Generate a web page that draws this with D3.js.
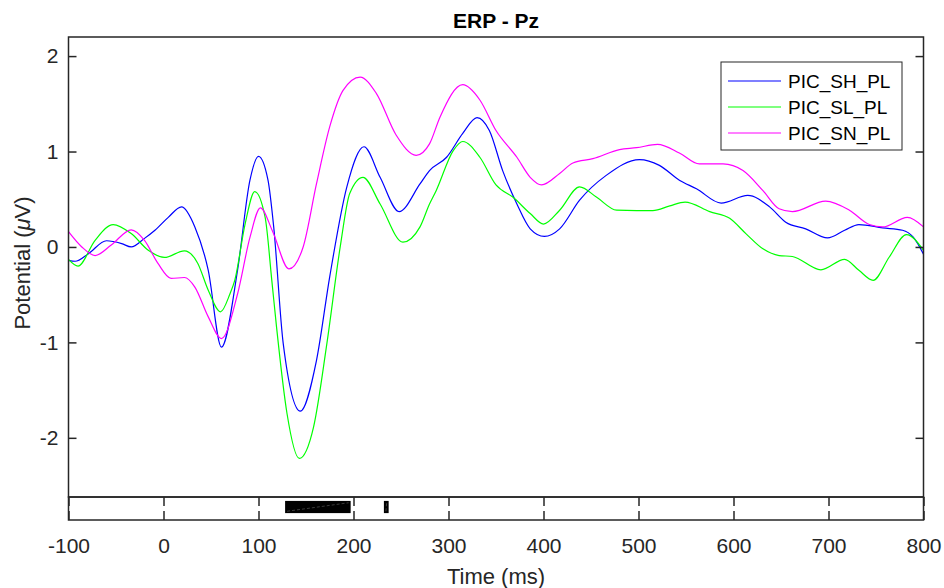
<!DOCTYPE html>
<html>
<head>
<meta charset="utf-8">
<script src="https://cdn.jsdelivr.net/npm/d3@7"></script>
<style>
  body { margin: 0; background: #fff; }
  text { font-family: "Liberation Sans", Arial, sans-serif; fill: #262626; }
</style>
</head>
<body>
<script>
// series (time in ms, potential in uV)
var shTime = [-100, -93, -79, -60, -44, -34, -20, -9, 5, 19, 33, 47, 61, 78, 91, 100, 110, 116, 126, 144, 161, 175, 193, 211, 228, 248, 270, 280, 298, 315, 330, 343, 357, 372, 386, 401, 417, 438, 466, 501, 522, 543, 561, 587, 615, 638, 655, 676, 699, 717, 732, 757, 778, 789, 800];
var shVal  = [-0.14, -0.15, -0.07, 0.065, 0.035, 0.0, 0.09, 0.175, 0.31, 0.42, 0.21, -0.24, -1.05, -0.24, 0.70, 0.95, 0.70, 0.21, -1.01, -1.72, -1.19, -0.31, 0.63, 1.05, 0.73, 0.37, 0.66, 0.80, 0.94, 1.19, 1.355, 1.22, 0.80, 0.45, 0.19, 0.11, 0.19, 0.49, 0.75, 0.915, 0.855, 0.70, 0.61, 0.46, 0.54, 0.42, 0.26, 0.19, 0.095, 0.175, 0.235, 0.20, 0.175, 0.105, -0.076];

var slTime = [-100, -90, -72, -53, -34, -16, 1, 22, 36, 47, 60, 70, 75, 86, 96, 107, 114, 119, 130, 143, 158, 172, 186, 196, 210, 228, 252, 270, 280, 287, 305, 315, 333, 350, 368, 386, 400, 417, 438, 456, 477, 498, 515, 533, 549, 575, 596, 613, 631, 648, 662, 692, 717, 732, 747, 764, 782, 800];
var slVal  = [-0.13, -0.20, 0.07, 0.235, 0.14, -0.035, -0.11, -0.04, -0.17, -0.45, -0.68, -0.49, -0.35, 0.245, 0.58, 0.31, -0.35, -0.84, -1.745, -2.216, -1.885, -1.01, 0.0, 0.56, 0.73, 0.45, 0.05, 0.21, 0.45, 0.59, 1.01, 1.105, 0.94, 0.65, 0.52, 0.35, 0.24, 0.385, 0.63, 0.52, 0.385, 0.38, 0.38, 0.43, 0.47, 0.37, 0.30, 0.14, -0.02, -0.09, -0.10, -0.24, -0.13, -0.245, -0.35, -0.105, 0.13, -0.035];

var snTime = [-100, -86, -72, -55, -34, -20, -6, 8, 22, 33, 47, 61, 78, 91, 102, 115, 132, 147, 161, 175, 189, 207, 224, 245, 266, 280, 291, 315, 333, 350, 372, 386, 398, 417, 431, 452, 480, 498, 520, 543, 564, 589, 610, 631, 648, 662, 697, 722, 743, 757, 783, 800];
var snVal  = [0.16, 0.0, -0.09, 0.02, 0.18, 0.07, -0.17, -0.33, -0.32, -0.42, -0.73, -0.96, -0.49, 0.10, 0.41, 0.16, -0.23, 0.0, 0.66, 1.26, 1.64, 1.78, 1.61, 1.17, 0.96, 1.08, 1.36, 1.70, 1.54, 1.22, 0.94, 0.73, 0.65, 0.77, 0.88, 0.925, 1.02, 1.04, 1.075, 0.985, 0.87, 0.87, 0.80, 0.59, 0.40, 0.37, 0.48, 0.385, 0.235, 0.21, 0.31, 0.21];

var seriesNames  = ["PIC_SH_PL", "PIC_SL_PL", "PIC_SN_PL"];
var seriesColors = ["#0000ff", "#00ff00", "#ff00ff"];

var xTicks = [-100, 0, 100, 200, 300, 400, 500, 600, 700, 800];
var yTicks = [-2, -1, 0, 1, 2];

// significant windows in the strip below (ms)
var sigStart = [128, 232];
var sigEnd   = [197, 237];

drawChart();

function drawChart(){
    var width = 944, height = 588;
    var left = 68.5, right = 923.5, plotTop = 37, mainBottom = 497, stripBottom = 520;
    var axisColor = "#262626";

    var svg = d3.select("body").append("svg")
        .attr("width", width)
        .attr("height", height);

    var x = d3.scaleLinear().domain([-100, 800]).range([left, right]);
    var y = d3.scaleLinear().domain([-2.62, 2.2]).range([mainBottom, plotTop]);
    var ys = d3.scaleLinear().domain([0, 1]).range([stripBottom, mainBottom]);

    var line = d3.line()
        .x(function(d){ return x(d[0]); })
        .y(function(d){ return y(d[1]); })
        .curve(d3.curveMonotoneX);

    var allSeries = [d3.zip(shTime, shVal), d3.zip(slTime, slVal), d3.zip(snTime, snVal)];

    //clip curves to main plot
    svg.append("clipPath").attr("id", "clip")
      .append("rect").attr("x", left).attr("y", plotTop)
      .attr("width", right - left).attr("height", mainBottom - plotTop);

    svg.append("g").attr("clip-path", "url(#clip)")
      .selectAll("path.erp")
      .data(allSeries)
      .enter()
      .append("path")
        .attr("class", "erp")
        .attr("fill", "none")
        .attr("stroke", function(d, i){ return seriesColors[i]; })
        .attr("stroke-width", 1.2)
        .attr("d", line);

    // y axis ticks (left and right, pointing in)
    var yAxisL = d3.axisLeft(y).tickValues(yTicks).tickSizeInner(-8).tickSizeOuter(0).tickPadding(10)
        .tickFormat(function(d){ return d < 0 ? "-" + Math.abs(d) : d; });
    var gy = svg.append("g").attr("transform", "translate(" + left + ",0)").call(yAxisL);
    gy.select(".domain").remove();
    gy.selectAll("line").attr("stroke", axisColor).attr("stroke-width", 1.5);
    gy.selectAll("text").style("font-size", "21px").attr("fill", axisColor);

    var yAxisR = d3.axisRight(y).tickValues(yTicks).tickSizeInner(-8).tickSizeOuter(0).tickFormat("");
    var gyr = svg.append("g").attr("transform", "translate(" + right + ",0)").call(yAxisR);
    gyr.select(".domain").remove();
    gyr.selectAll("line").attr("stroke", axisColor).attr("stroke-width", 1.5);

    // significance bars in strip
    var bars = svg.selectAll("rect.sig")
      .data(d3.zip(sigStart, sigEnd))
      .enter();
    bars.append("rect")
        .attr("class", "sig")
        .attr("x", function(d){ return x(d[0]); })
        .attr("width", function(d){ return x(d[1]) - x(d[0]); })
        .attr("y", ys(0.83))
        .attr("height", ys(0.3) - ys(0.83))
        .attr("fill", "#000");
    bars.append("line")
        .attr("x1", function(d){ return x(d[0]) + 2; })
        .attr("x2", function(d){ return x(d[1]) - 2; })
        .attr("y1", ys(0.38))
        .attr("y2", ys(0.75))
        .attr("stroke", "#555")
        .attr("stroke-width", 0.7)
        .attr("stroke-dasharray", "3,2");

    // strip x ticks (top and bottom, pointing in)
    var xAxisB = d3.axisBottom(x).tickValues(xTicks).tickSizeInner(-9).tickSizeOuter(0).tickPadding(18)
        .tickFormat(function(d){ return d < 0 ? "-" + Math.abs(d) : d; });
    var gx = svg.append("g").attr("transform", "translate(0," + stripBottom + ")").call(xAxisB);
    gx.select(".domain").remove();
    gx.selectAll("line").attr("stroke", axisColor).attr("stroke-width", 1.5);
    gx.selectAll("text").style("font-size", "21px").attr("fill", axisColor);

    var xAxisT = d3.axisTop(x).tickValues(xTicks).tickSizeInner(-9).tickSizeOuter(0).tickFormat("");
    var gxt = svg.append("g").attr("transform", "translate(0," + mainBottom + ")").call(xAxisT);
    gxt.select(".domain").remove();
    gxt.selectAll("line").attr("stroke", axisColor).attr("stroke-width", 1.5);

    // boxes
    svg.append("rect")
        .attr("x", left).attr("y", plotTop)
        .attr("width", right - left).attr("height", mainBottom - plotTop)
        .attr("fill", "none").attr("stroke", axisColor).attr("stroke-width", 1.5);
    svg.append("rect")
        .attr("x", left).attr("y", mainBottom)
        .attr("width", right - left).attr("height", stripBottom - mainBottom)
        .attr("fill", "none").attr("stroke", axisColor).attr("stroke-width", 1.5);

    // labels
    svg.append("text")
        .attr("x", (left + right) / 2).attr("y", 28)
        .attr("text-anchor", "middle")
        .style("font-size", "21px").style("font-weight", "bold")
        .style("fill", "#000")
        .text("ERP - Pz");

    svg.append("text")
        .attr("x", (left + right) / 2).attr("y", 584)
        .attr("text-anchor", "middle")
        .style("font-size", "22px")
        .text("Time (ms)");

    var ylab = svg.append("text")
        .attr("transform", "translate(30," + ((plotTop + mainBottom) / 2 - 4) + ") rotate(-90)")
        .attr("text-anchor", "middle")
        .style("font-size", "22px");
    ylab.append("tspan").text("Potential (");
    ylab.append("tspan").style("font-style", "italic").text("\u03BC");
    ylab.append("tspan").text("V)");

    // legend
    var legend = svg.append("g").attr("transform", "translate(721,62)");
    legend.append("rect")
        .attr("width", 181).attr("height", 88)
        .attr("fill", "#fff").attr("stroke", axisColor).attr("stroke-width", 1);
    var items = legend.selectAll("g.item")
      .data(seriesNames)
      .enter()
      .append("g")
        .attr("class", "item")
        .attr("transform", function(d, i){ return "translate(0," + (19 + i * 26) + ")"; });
    items.append("line")
        .attr("x1", 7).attr("x2", 60)
        .attr("stroke", function(d, i){ return seriesColors[i]; })
        .attr("stroke-width", 1.2);
    items.append("text")
        .attr("x", 67).attr("dy", "0.36em")
        .style("font-size", "19px")
        .style("fill", "#000")
        .text(function(d){ return d; });
}
</script>
</body>
</html>
